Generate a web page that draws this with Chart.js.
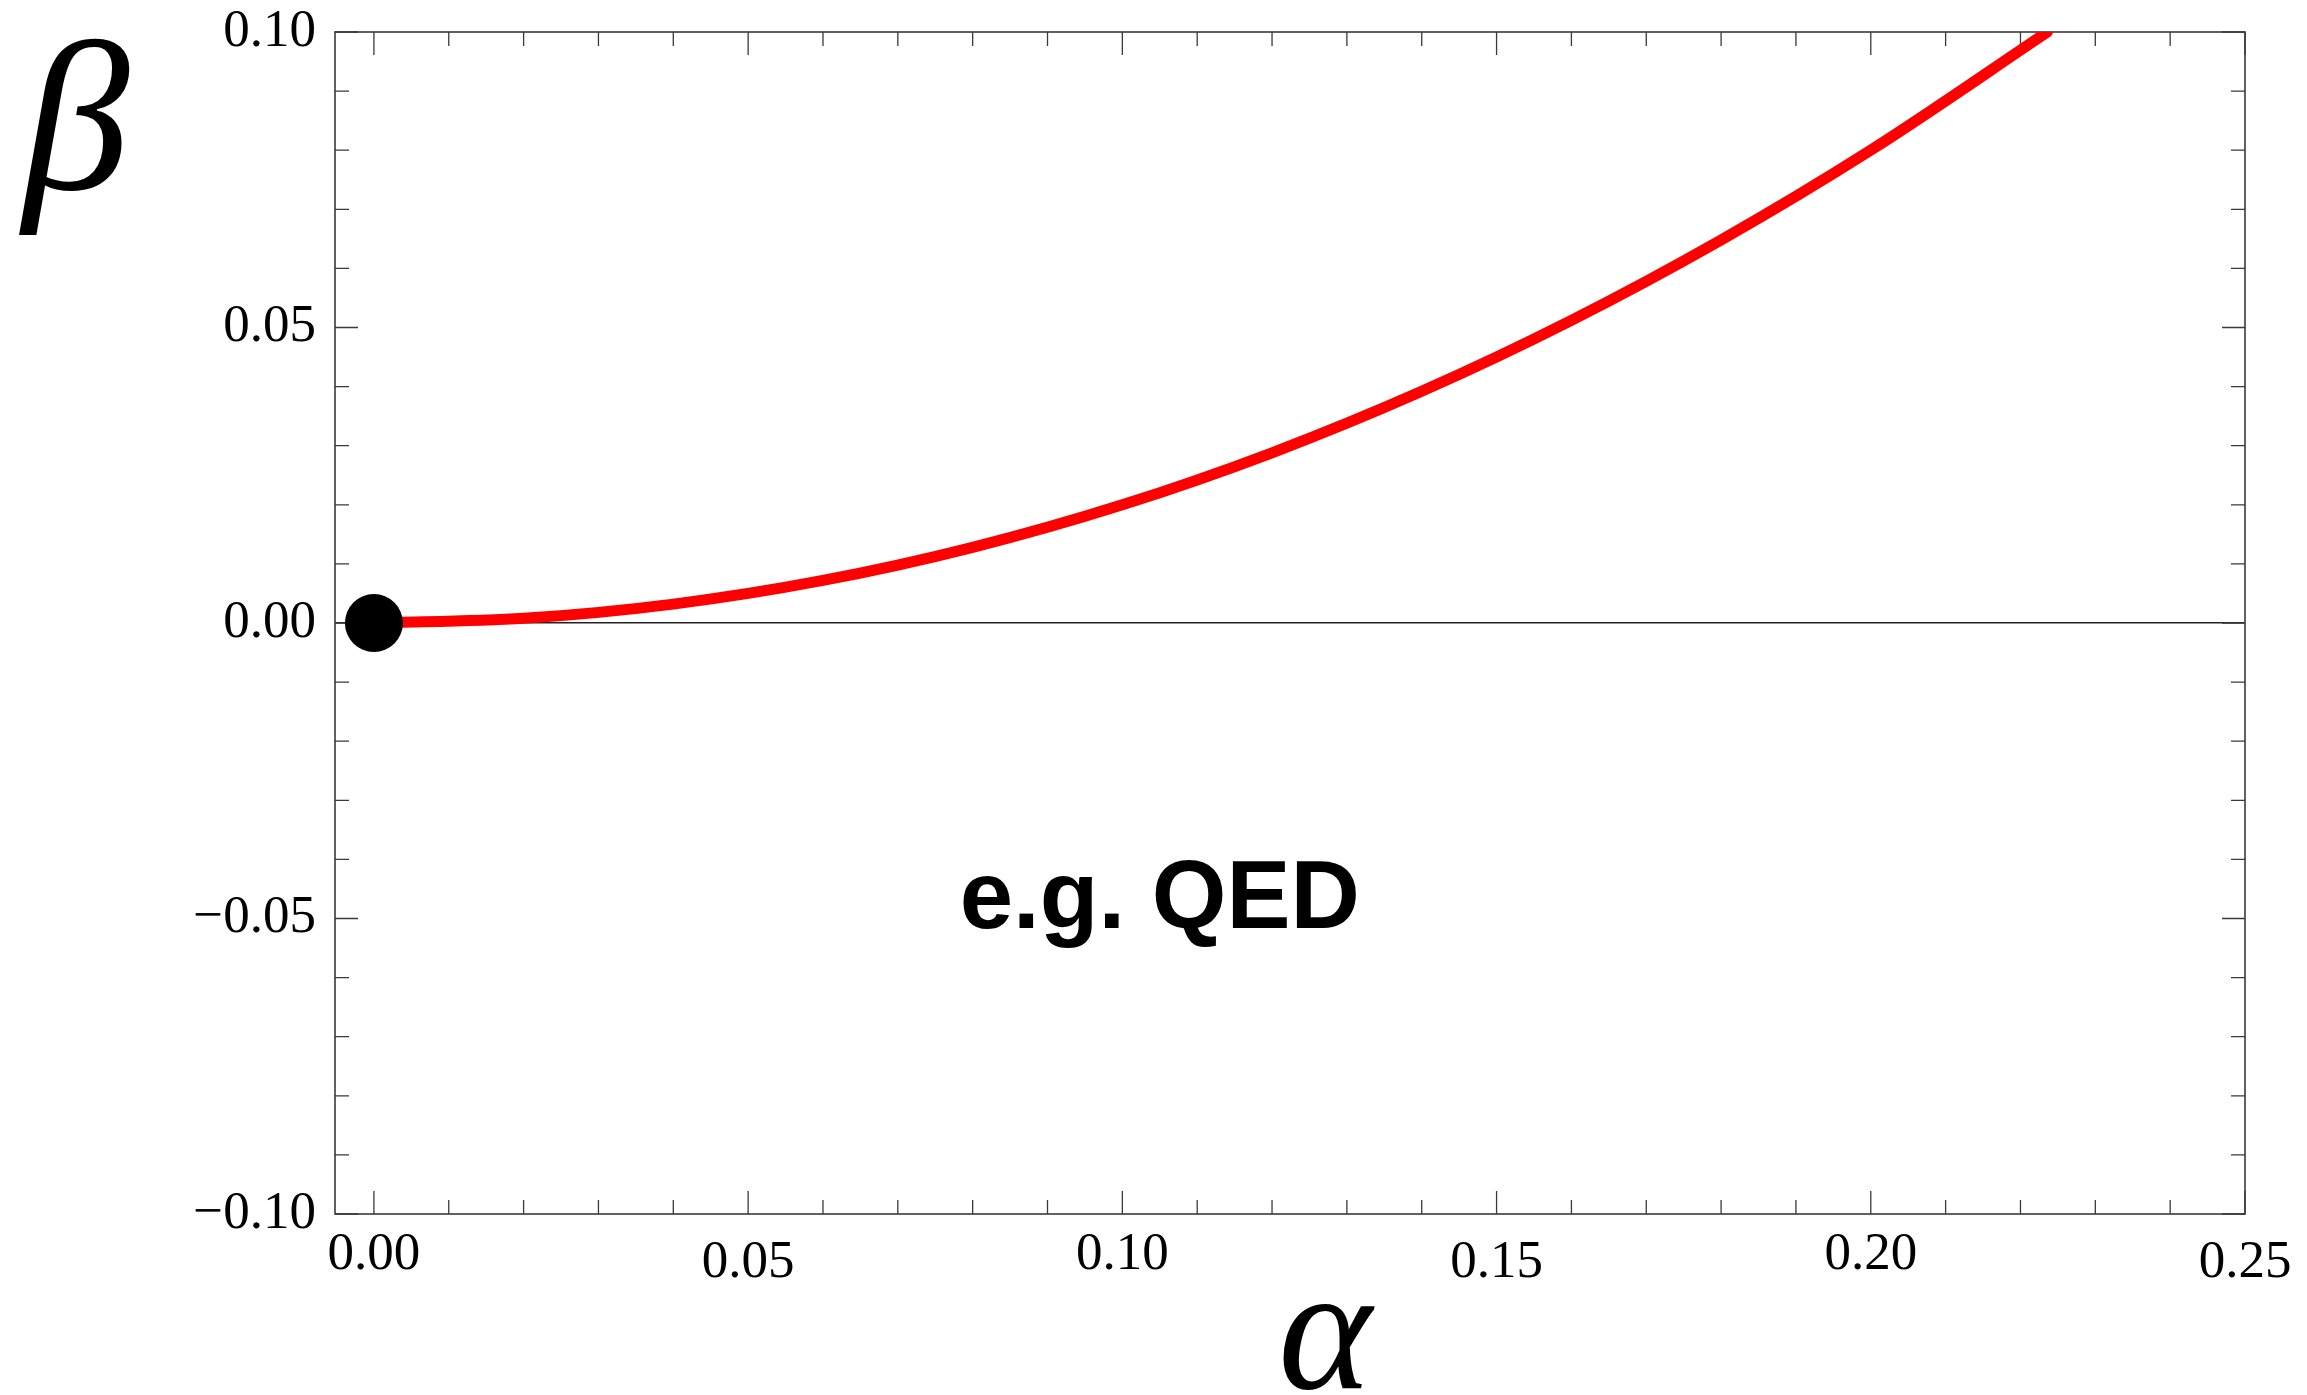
<!DOCTYPE html>
<html>
<head>
<meta charset="utf-8">
<script src="https://cdn.jsdelivr.net/npm/chart.js@4.4.1/dist/chart.umd.min.js"></script>
<style>
  html, body { margin: 0; padding: 0; background: #fff; }
  #wrap { width: 2307px; height: 1395px; position: relative; }
</style>
</head>
<body>
<div id="wrap"><canvas id="betaChart"></canvas></div>
<script>
// curve
const alphaValues = [0, 0.02, 0.04, 0.06, 0.08, 0.10, 0.12, 0.14, 0.16, 0.18, 0.20, 0.2236];
const betaValues = [0, 0.0008, 0.0032, 0.0072, 0.0128, 0.0200, 0.0288, 0.0392, 0.0512, 0.0648, 0.0800, 0.1000];
const fixedPoints = [{ x: 0, y: 0 }];

const xTickValues = [0, 0.05, 0.10, 0.15, 0.20, 0.25];
const yTickValues = [-0.10, -0.05, 0, 0.05, 0.10];
const xRange = [-0.0052, 0.25];
const yRange = [-0.10, 0.10];

const xTitle = 'α';
const yTitle = 'β';
const note = { text: 'e.g. QED', x: 0.105, y: -0.0472 };

const SERIF = '"Liberation Serif", "Times New Roman", serif';
const SANS = '"Liberation Sans", Arial, sans-serif';

const fmt = v => (v < 0 ? '\u2212' : '') + Math.abs(v).toFixed(2);

// frame with inward Mathematica-style ticks, major every 0.05, minor every 0.01
const frameTicks = {
  id: 'frameTicks',
  beforeDatasetsDraw(chart) {
    const { ctx, chartArea: a, scales: { x, y } } = chart;
    ctx.save();
    ctx.strokeStyle = '#3a3a3a';
    ctx.lineWidth = 1.3;
    for (let i = 0; i <= 25; i++) {
      const px = x.getPixelForValue(i / 100);
      const len = i % 5 === 0 ? 23 : 14;
      ctx.beginPath();
      ctx.moveTo(px, a.bottom); ctx.lineTo(px, a.bottom - len);
      ctx.moveTo(px, a.top); ctx.lineTo(px, a.top + len);
      ctx.stroke();
    }
    for (let i = -10; i <= 10; i++) {
      const py = y.getPixelForValue(i / 100);
      const len = i % 5 === 0 ? 23 : 14;
      ctx.beginPath();
      ctx.moveTo(a.left, py); ctx.lineTo(a.left + len, py);
      ctx.moveTo(a.right, py); ctx.lineTo(a.right - len, py);
      ctx.stroke();
    }
    ctx.lineWidth = 1.6;
    ctx.strokeRect(a.left, a.top, a.right - a.left, a.bottom - a.top);
    ctx.restore();
  },
  afterDraw(chart) {
    const { ctx, scales: { x, y } } = chart;
    ctx.save();
    ctx.fillStyle = '#000';
    ctx.textAlign = 'center';
    ctx.textBaseline = 'alphabetic';
    ctx.font = 'italic 215px ' + SERIF;
    ctx.fillText(yTitle, 76, 189);
    ctx.font = 'italic 178px ' + SERIF;
    ctx.fillText(xTitle, 1325, 1388);
    ctx.font = 'bold 96px ' + SANS;
    ctx.textBaseline = 'middle';
    ctx.fillText(note.text, x.getPixelForValue(note.x), y.getPixelForValue(note.y));
    ctx.restore();
  }
};

new Chart(document.getElementById('betaChart').getContext('2d'), {
  type: 'scatter',
  data: {
    datasets: [
      {
        data: fixedPoints,
        pointRadius: 29,
        pointBackgroundColor: '#000',
        pointBorderWidth: 0,
        showLine: false,
      },
      {
        data: alphaValues.map((a, i) => ({ x: a, y: betaValues[i] })),
        showLine: true,
        borderColor: '#ff0000',
        borderWidth: 11,
        borderCapStyle: 'round',
        cubicInterpolationMode: 'monotone',
        pointRadius: 0,
      },
    ],
  },
  options: {
    responsive: true,
    maintainAspectRatio: false,
    animation: false,
    layout: { padding: { top: 32, right: 62, left: 0, bottom: 0 } },
    plugins: {
      legend: { display: false },
      tooltip: { enabled: false },
    },
    scales: {
      x: {
        type: 'linear',
        min: xRange[0],
        max: xRange[1],
        afterBuildTicks: scale => { scale.ticks = xTickValues.map(v => ({ value: v })); },
        afterFit: scale => {
          scale.height = 181;
          scale.paddingLeft = 0;
          scale.paddingRight = 0;
        },
        border: { display: false },
        grid: { display: false, drawTicks: false },
        ticks: {
          autoSkip: false,
          maxRotation: 0,
          padding: 9,
          color: '#000',
          callback: v => fmt(v),
          font: c => ({ family: SERIF, size: 53, lineHeight: c.index % 2 ? 1.5 : 1.2 }),
        },
      },
      y: {
        type: 'linear',
        min: yRange[0],
        max: yRange[1],
        afterBuildTicks: scale => { scale.ticks = yTickValues.map(v => ({ value: v })); },
        afterFit: scale => {
          scale.width = 335;
          scale.paddingTop = 0;
          scale.paddingBottom = 0;
        },
        border: { display: false },
        grid: {
          drawTicks: false,
          color: c => (c.tick && c.tick.value === 0 ? '#222' : 'rgba(0,0,0,0)'),
          lineWidth: 1.4,
        },
        ticks: {
          autoSkip: false,
          padding: 19,
          color: '#000',
          callback: v => fmt(v),
          font: { family: SERIF, size: 53 },
        },
      },
    },
  },
  plugins: [frameTicks],
});
</script>
</body>
</html>
